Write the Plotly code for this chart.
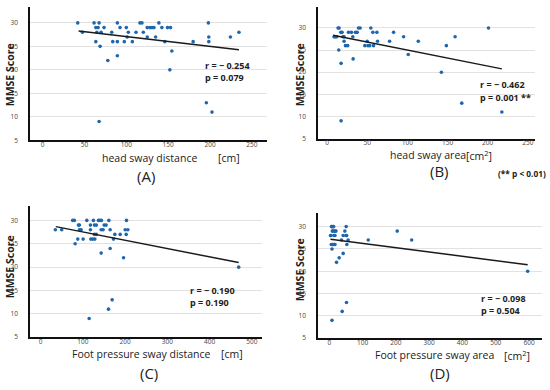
import plotly.graph_objects as go

# ---------------- data ----------------
A_x = [42, 47.6, 61.5, 63.6, 66.3, 67.5, 64.8, 69.9, 73.4, 63.6, 68.7, 77.9, 82.6, 83.8, 89.3, 89.3, 89.3,
       92.5, 97.6, 100, 102.4, 101, 107.2, 111.6, 116.3, 118.7, 120.3, 125, 125, 128.2, 130.6, 133, 135,
       138.9, 142.5, 146, 149.2, 152.8, 154.4, 152, 179.8, 198, 198.5, 198.5, 195.6, 202.3, 224.3, 234.5, 67.5]
A_y = [30, 28, 30, 29, 29, 30, 28, 28, 29, 26, 25, 22, 28, 26, 30, 26, 23, 29, 26, 29, 28, 27, 26, 28, 30,
       30, 28, 29, 27, 29, 29, 29, 27, 30, 29, 26, 29, 29, 24, 20, 26, 30, 27, 26, 13, 11, 27, 28, 9]
A_fit_x = [43, 234.5]
A_fit_y = [28.25, 24.3]

B_x = [8.5, 9.6, 10.7, 13.5, 14.8, 16.9, 18.5, 14.4, 17.3, 17.3, 21, 21, 22.7, 25.5, 26.5, 30.2, 31.9, 32.3,
       35.2, 37.3, 39, 41, 46.9, 49.8, 50.8, 54.4, 56.9, 57.7, 61.9, 62.7, 77.7, 82.7, 95.2, 101, 113.5,
       142.3, 148.5, 159.4, 167.7, 201, 217.7, 12, 19.5, 53]
B_y = [28, 28, 28, 30, 30, 29, 29, 25, 22, 9, 28, 27, 26, 26, 29, 29, 28, 23, 29, 29, 30, 30, 26, 27, 26,
       30, 29, 26, 29, 27, 27, 29, 28, 24, 27, 20, 26, 28, 13, 30, 11, 28, 28, 26]
B_fit_x = [7.3, 217.7]
B_fit_y = [28.34, 20.75]

C_x = [35, 50, 76, 80, 81.8, 89.6, 91.8, 92, 96, 88, 100.7, 109.5, 115, 118, 118, 119, 123.6, 128.4, 125,
       127.5, 132, 127.5, 132, 137, 140, 144, 143.4, 148, 143.4, 150.5, 155, 161.6, 164.7, 164.7, 160.7,
       169.4, 172.6, 175.8, 188.4, 196.4, 200.2, 203.3, 202.6, 206.6, 468.8]
C_y = [28, 28, 30, 30, 25, 29, 29, 28, 28, 26, 26, 30, 9, 29, 28, 26, 26, 26, 30, 29, 29, 27, 27, 30, 30,
       30, 28, 28, 23, 29, 29, 30, 28, 24, 11, 13, 26, 27, 27, 22, 28, 30, 27, 28, 20]
C_fit_x = [36, 468.8]
C_fit_y = [28.67, 20.97]

D_x = [3.5, 5, 6.5, 8, 11, 13, 9, 11, 6, 9, 12, 15, 8, 8, 21.6, 29.6, 14, 17, 15, 18, 20, 36.7, 17, 38.6,
       41.6, 46.7, 50, 50.6, 51.6, 52, 56.6, 52.7, 41.6, 117, 204, 247.5, 596]
D_y = [28, 28, 30, 30, 30, 30, 29, 29, 26, 26, 26, 26, 25, 9, 22, 23, 28, 28, 29, 29, 29, 27, 26, 11, 24,
       29, 28, 30, 13, 28, 27, 26, 28, 27, 29, 27, 20]
D_fit_x = [3.5, 596]
D_fit_y = [27.17, 21.47]

Y_TICKS = [5, 10, 15, 20, 25, 30]
A_XTICKS = [0, 50, 100, 150, 200, 250]
B_XTICKS = [0, 50, 100, 150, 200, 250]
C_XTICKS = [0, 100, 200, 300, 400, 500]
D_XTICKS = [0, 100, 200, 300, 400, 500, 600]

STATS = {
    "A": ("r = − 0.254", "p = 0.079"),
    "B": ("r = − 0.462", "p = 0.001 **"),
    "C": ("r = − 0.190", "p = 0.190"),
    "D": ("r = − 0.098", "p = 0.504"),
}
XTITLES = {
    "A": ("head sway distance", "[cm]"),
    "B": ("head sway area", "[cm<sup>2</sup>]"),
    "C": ("Foot pressure sway distance", "[cm]"),
    "D": ("Foot pressure sway area", "[cm<sup>2</sup>]"),
}

# ---------------- layout helpers ----------------
W, H = 550, 390
FONT = "Open Sans"
DOT = "#1f66ad"


def px(x, y):
    return x / W, 1 - y / H


panels = [
    ("A", A_x, A_y, A_fit_x, A_fit_y, A_XTICKS, [-15, 268], [5, 33.4], (30, 267, 7, 141.7)),
    ("B", B_x, B_y, B_fit_x, B_fit_y, B_XTICKS, [-11.5, 259], [5, 34.75], (318, 535, 7, 140)),
    ("C", C_x, C_y, C_fit_x, C_fit_y, C_XTICKS, [-25, 524], [5, 33.05], (30, 262, 208.3, 340.7)),
    ("D", D_x, D_y, D_fit_x, D_fit_y, D_XTICKS, [-34, 639], [5, 33.1], (318, 542, 215, 341.7)),
]

fig = go.Figure()
layout = dict(
    width=W, height=H,
    margin=dict(l=0, r=0, t=0, b=0),
    paper_bgcolor="white", plot_bgcolor="white",
    showlegend=False,
    font=dict(family=FONT, color="#222"),
)
annotations = []

for i, (key, xs, ys, fx, fy, xt, xr, yr, (l, r, t, b)) in enumerate(panels):
    n = "" if i == 0 else str(i + 1)
    xa, ya = "x" + n, "y" + n
    fig.add_trace(go.Scatter(x=xs, y=ys, mode="markers", xaxis=xa, yaxis=ya,
                             marker=dict(size=3.6, color=DOT), hoverinfo="skip"))
    fig.add_trace(go.Scatter(x=fx, y=fy, mode="lines", xaxis=xa, yaxis=ya,
                             line=dict(color="#1a1a1a", width=1.5), hoverinfo="skip"))
    layout["xaxis" + n] = dict(
        domain=[l / W, r / W], anchor=ya, range=xr, tickvals=xt,
        showgrid=False, zeroline=False, showline=True, linecolor="#111", linewidth=1.5,
        ticks="", tickfont=dict(size=6.5, color="#444", family=FONT), ticklabelstandoff=-3,
    )
    layout["yaxis" + n] = dict(
        domain=[1 - b / H, 1 - t / H], anchor=xa, range=yr, tickvals=Y_TICKS,
        showgrid=True, gridcolor="#e2e2e2", gridwidth=1, zeroline=False,
        showline=True, linecolor="#111", linewidth=1.5,
        ticks="", tickfont=dict(size=6.5, color="#444", family=FONT), ticklabelstandoff=9,
    )

# y-axis titles
for (xp, yp) in [(10, 76), (300, 76), (10, 270), (300, 273)]:
    X, Y = px(xp, yp)
    annotations.append(dict(x=X, y=Y, xref="paper", yref="paper", text="<b>MMSE Score</b>",
                            textangle=-90, showarrow=False, font=dict(size=10.5, color="#222", family=FONT),
                            xanchor="center", yanchor="middle"))

# x-axis titles (main text + unit) and panel letters
title_pos = {
    "A": ((100, 160), (216, 160), (146, 178)),
    "B": ((388, 157), (464, 157), (439, 173)),
    "C": ((70, 358), (219, 358), (149, 377)),
    "D": ((373, 359), (502, 359), (440, 377)),
}
for key, ((tx, ty), (ux, uy), (lx, ly)) in title_pos.items():
    main, unit = XTITLES[key]
    X, Y = px(tx, ty)
    annotations.append(dict(x=X, y=Y, xref="paper", yref="paper", text=main, showarrow=False,
                            xanchor="left", yanchor="middle", font=dict(size=10.5, color="#222", family=FONT)))
    X, Y = px(ux, uy)
    annotations.append(dict(x=X, y=Y, xref="paper", yref="paper", text=unit, showarrow=False,
                            xanchor="left", yanchor="middle", font=dict(size=10.5, color="#222", family=FONT)))
    X, Y = px(lx, ly)
    annotations.append(dict(x=X, y=Y, xref="paper", yref="paper", text=f"({key})", showarrow=False,
                            xanchor="center", yanchor="middle", font=dict(size=15, color="#222", family=FONT)))

# stats text
stat_pos = {"A": (203, 66, 78), "B": (478, 85, 99), "C": (188, 294, 306), "D": (479, 302, 314)}
for key, (sx, ry, py) in stat_pos.items():
    rt, pt = STATS[key]
    for txt, yy in ((rt, ry), (pt, py)):
        X, Y = px(sx, yy)
        annotations.append(dict(x=X, y=Y, xref="paper", yref="paper", text=f"<b>{txt}</b>",
                                showarrow=False, xanchor="left", yanchor="middle",
                                font=dict(size=9, color="#222", family=FONT)))

X, Y = px(496, 175)
annotations.append(dict(x=X, y=Y, xref="paper", yref="paper", text="<b>(** p < 0.01)</b>",
                        showarrow=False, xanchor="left", yanchor="middle",
                        font=dict(size=8.3, color="#222", family=FONT)))

layout["annotations"] = annotations
fig.update_layout(**layout)
fig.write_html("out.html", config={"displayModeBar": False},
               post_script="document.body.style.margin='0';document.body.style.padding='0';")
